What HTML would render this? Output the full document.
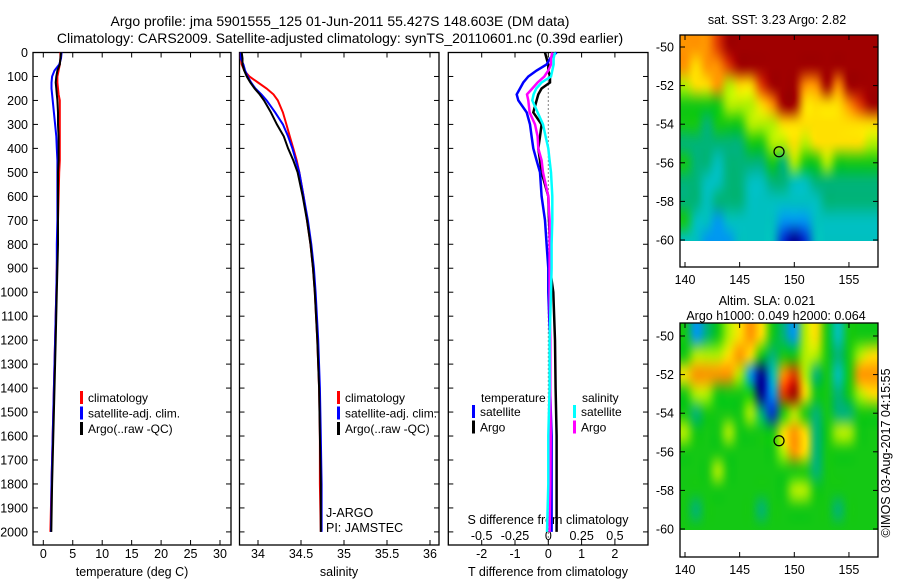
<!DOCTYPE html>
<html><head><meta charset="utf-8">
<style>
html,body{margin:0;padding:0;background:#fff;}
#wrap{position:relative;width:900px;height:580px;}
svg{display:block;position:absolute;left:0;top:0;font-family:"Liberation Sans",sans-serif;}
canvas{position:absolute;}
text{fill:#000;}
</style></head>
<body>
<div id="wrap">
<canvas id="cTop" width="198" height="206" style="left:680px;top:35px"></canvas>
<canvas id="cBot" width="198" height="207" style="left:680px;top:323px"></canvas>
<svg id="chart" width="900" height="580" viewBox="0 0 900 580" xmlns="http://www.w3.org/2000/svg">
<text x="340" y="26" font-size="14" text-anchor="middle">Argo profile: jma 5901555_125 01-Jun-2011 55.427S 148.603E (DM data)</text>
<text x="340" y="43" font-size="14" text-anchor="middle">Climatology: CARS2009. Satellite-adjusted climatology: synTS_20110601.nc (0.39d earlier)</text>
<g id="g"></g>
</svg>
</div>
<script>
// ---------- data ----------
const depths=[0,25,50,75,100,125,150,175,200,250,300,350,400,450,500,600,700,800,900,1000,1200,1400,1600,1800,2000];
const tempClim=[2.9,2.9,2.8,2.6,2.4,2.4,2.5,2.6,2.8,2.8,2.8,2.8,2.8,2.8,2.7,2.6,2.5,2.4,2.3,2.2,2.0,1.8,1.6,1.4,1.2];
const tempSat=[3.1,3.0,2.7,1.9,1.5,1.4,1.4,1.5,1.6,1.8,2.0,2.2,2.3,2.4,2.4,2.4,2.4,2.3,2.3,2.2,2.0,1.8,1.6,1.4,1.3];
const tempArgo=[3.0,2.9,2.8,2.4,2.2,2.1,2.2,2.3,2.4,2.5,2.5,2.6,2.6,2.6,2.5,2.5,2.5,2.5,2.4,2.3,2.1,1.9,1.7,1.5,1.35];
const salClim=[33.80,33.80,33.81,33.84,33.90,34.00,34.10,34.18,34.23,34.29,34.33,34.37,34.41,34.45,34.48,34.53,34.57,34.61,34.64,34.66,34.69,34.71,34.72,34.72,34.73];
const salSat=[33.80,33.80,33.83,33.85,33.88,33.92,33.97,34.04,34.10,34.20,34.29,34.35,34.40,34.44,34.48,34.53,34.58,34.62,34.65,34.67,34.70,34.72,34.73,34.74,34.74];
const salArgo=[33.81,33.82,33.82,33.84,33.87,33.91,33.96,34.02,34.07,34.15,34.22,34.30,34.35,34.41,34.46,34.52,34.57,34.61,34.64,34.66,34.69,34.71,34.72,34.73,34.73];
const tDiffSat=[0.25,0.05,-0.05,-0.35,-0.6,-0.75,-0.85,-0.95,-0.9,-0.65,-0.55,-0.5,-0.45,-0.35,-0.25,-0.2,-0.1,-0.05,0,0,0.05,0.05,0.1,0.1,0.1];
const tDiffArgo=[-0.1,-0.05,0,0,0.05,0.05,-0.2,-0.3,-0.35,-0.45,-0.2,-0.25,-0.3,-0.25,-0.2,0,0.02,0.05,0.05,0.15,0.2,0.22,0.25,0.25,0.25];
const sDiffArgo=[0.03,0.02,0.02,0,-0.03,-0.08,-0.12,-0.16,-0.15,-0.14,-0.1,-0.08,-0.075,-0.05,-0.04,0,0.01,0.01,0.01,0.01,0.015,0.015,0.018,0.015,0.01];
const sDiffSat=[0.05,0.04,0.04,0.03,0.02,-0.05,-0.09,-0.11,-0.12,-0.08,-0.04,-0.02,0.0,0.01,0.02,0.03,0.03,0.025,0.025,0.02,0.01,0.01,0,0,-0.01];
const depthTicks=[0,100,200,300,400,500,600,700,800,900,1000,1100,1200,1300,1400,1500,1600,1700,1800,1900,2000];
const tempTicks=[0,5,10,15,20,25,30];
const salTicks=[34,34.5,35,35.5,36];
const salTickLabels=["34","34.5","35","35.5","36"];
const tDiffTicks=[-2,-1,0,1,2];
const sDiffTicks=[-0.5,-0.25,0,0.25,0.5];
const sDiffTickLabels=["-0.5","-0.25","0","0.25","0.5"];
const mapLons=[140,141,142,143,144,145,146,147,148,149,150,151,152,153,154,155,156,157];
const mapLats=[-50,-51,-52,-53,-54,-55,-56,-57,-58,-59,-60];
const lonTicks=[140,145,150,155];
const latTicks=[-50,-52,-54,-56,-58,-60];
const sstGrid=[
[8,8,8,9,10,10,10,10,10,10,10,10,10,10,10,10,10,10],
[8,7,8,8,9,10,10,10,10,10,10,10,10,10,10,10,10,10],
[6,7,7,8,6,7,7,9,10,10,10,8,8,10,8,10,10,10],
[5,5,5,5,6,6,6,7,8,10,10,7,7,7,7,8,9,10],
[5,5,4,5,5,5,6,6,6,7,7,7,7,7,7,7,7,7],
[4,4,4,4,4,4,5,5,6,6,7,6,7,7,7,7,7,6],
[5,4,4,3,4,4,4,4,5,4,6,5,5,6,5,5,5,5],
[4,4,3,3,4,4,3,3,4,4,3,3,4,4,4,4,4,4],
[4,4,3,4,4,4,3,3,3,3,3,3,3,4,4,4,4,4],
[5,3,3,2,3,3,3,3,3,2,2,2,3,3,3,3,3,3],
[3,3,2,2,2,3,3,3,3,1,0,1,3,3,3,3,3,3]];
const slaGrid=[
[5,2,4,5,6,7,8,7,5,4,2,6,7,5,3,5,5,5],
[5,6,6,6,7,8,7,5,4,5,5,6,6,5,4,5,6,7],
[7,8,8,8,8,6,2,0,3,8,9,6,4,5,3,5,8,8],
[5,6,6,5,5,5,5,0,2,9,10,7,5,5,4,5,6,7],
[5,4,5,5,5,5,6,4,1,5,6,5,4,5,4,4,5,5],
[6,5,5,5,6,5,5,5,5,7,8,7,4,5,6,6,5,5],
[5,5,5,5,5,5,5,5,5,6,8,7,4,5,5,5,5,5],
[5,5,5,6,5,5,5,5,5,5,5,5,4,5,5,5,5,5],
[5,5,5,5,5,5,5,5,5,5,6,6,5,5,5,5,5,5],
[5,4,5,5,5,5,5,4,5,5,5,5,5,5,4,5,5,5],
[5,5,5,5,5,5,5,5,5,5,5,5,5,5,5,5,5,5]];
const floatLon=148.603, floatLat=-55.427;

// ---------- helpers ----------
const NS="http://www.w3.org/2000/svg";
const G=document.getElementById('g');
function mk(tag,attrs,parent){const e=document.createElementNS(NS,tag);for(const k in attrs)e.setAttribute(k,attrs[k]);(parent||G).appendChild(e);return e;}
function txt(s,x,y,size,anchor,parent){const t=mk('text',{x:x,y:y,'font-size':size,'text-anchor':anchor||'middle'},parent);t.textContent=s;return t;}
const yTop=52.5, yScale=0.2397, boxBottom=545;
const yD=d=>yTop+d*yScale;

function panel(name,x0,x1){
  const g=mk('g',{});
  
  
  const r=mk('rect',{x:x0,y:yTop,width:x1-x0,height:boxBottom-yTop,fill:'none',stroke:'#000','stroke-width':1.3},g);
  
  
  depthTicks.forEach(d=>{
    const y=yD(d);
    mk('line',{x1:x0,x2:x0+5,y1:y,y2:y,stroke:'#000'},g);
    mk('line',{x1:x1-5,x2:x1,y1:y,y2:y,stroke:'#000'},g);
  });
  return g;
}
function xTicks(g,xs,labels,y0,y1,labelY){
  xs.forEach((x,i)=>{
    mk('line',{x1:x,x2:x,y1:boxBottom,y2:boxBottom-5,stroke:'#000'},g);
    mk('line',{x1:x,x2:x,y1:yTop,y2:yTop+5,stroke:'#000'},g);
    const t=txt(labels[i],x,labelY,12.5,'middle',g);
    
    
  });
}
function profile(g,vals,xf,color,name,w){
  const pts=vals.map((v,i)=>xf(v).toFixed(1)+','+yD(depths[i]).toFixed(1)).join(' ');
  const p=mk('polyline',{points:pts,fill:'none',stroke:color,'stroke-width':w||2},g);
  
  
}
function legend(g,x,y,entries){
  entries.forEach((e,i)=>{
    const yy=y+i*15.5;
    mk('rect',{x:x,y:yy-11,width:3,height:13,fill:e[1]},g);
    const t=txt(e[0],x+8,yy,12,'start',g);
    
    
  });
}

depthTicks.forEach(d=>{
  const t=txt(String(d),28,yD(d)+4.5,12.5,'end');
  
  
});

// ---------- panel 1 temperature ----------
const xT=v=>43.3+v*5.89;
const p1=panel('temperature-panel',33,231);
xTicks(p1,tempTicks.map(xT),tempTicks.map(String),0,0,558);
let t=txt('temperature (deg C)',132,576,12.5,'middle',p1);


profile(p1,tempClim,xT,'#f00','temp-climatology-line');
profile(p1,tempSat,xT,'#00f','temp-satellite-line');
profile(p1,tempArgo,xT,'#000','temp-argo-line');
legend(p1,80,402,[['climatology','#f00'],['satellite-adj. clim.','#00f'],['Argo(..raw -QC)','#000']]);

// ---------- panel 2 salinity ----------
const xS=v=>258+(v-34)*86;
const p2=panel('salinity-panel',239.5,439);
xTicks(p2,salTicks.map(xS),salTickLabels,0,0,558);
t=txt('salinity',339,576,12.5,'middle',p2);


profile(p2,salClim,xS,'#f00','sal-climatology-line');
profile(p2,salSat,xS,'#00f','sal-satellite-line');
profile(p2,salArgo,xS,'#000','sal-argo-line');
legend(p2,337,402,[['climatology','#f00'],['satellite-adj. clim.','#00f'],['Argo(..raw -QC)','#000']]);
t=txt('J-ARGO',326,517,12.5,'start',p2);


t=txt('PI: JAMSTEC',326,532,12.5,'start',p2);



// ---------- panel 3 differences ----------
const xTD=v=>548.3+v*33.3;
const xSD=v=>548.3+v*133.3;
const p3=panel('difference-panel',448.3,648);
xTicks(p3,tDiffTicks.map(xTD),tDiffTicks.map(String),0,0,558);
sDiffTicks.forEach((v,i)=>{
  const tt=txt(sDiffTickLabels[i],xSD(v),540,12.5,'middle',p3);
  
  
});
t=txt('S difference from climatology',548,524,12.5,'middle',p3);


t=txt('T difference from climatology',548,576,12.5,'middle',p3);


mk('line',{x1:xTD(0),x2:xTD(0),y1:yTop,y2:boxBottom,stroke:'#000','stroke-dasharray':'1,3'},p3);
profile(p3,tDiffArgo,xTD,'#000','t-diff-argo-line',2.5);
profile(p3,tDiffSat,xTD,'#00f','t-diff-satellite-line',2.5);
profile(p3,sDiffArgo,xSD,'#f0f','s-diff-argo-line',2.5);
profile(p3,sDiffSat,xSD,'#0ff','s-diff-satellite-line',2.5);
t=txt('temperature',481,402,12,'start',p3);


legend(p3,472,416,[['satellite','#00f'],['Argo','#000']]);
t=txt('salinity',582,402,12,'start',p3);


legend(p3,573,416,[['satellite','#0ff'],['Argo','#f0f']]);

// ---------- maps ----------
const palette=[[0,0,144],[0,48,208],[0,152,240],[0,192,192],[0,180,120],[20,200,20],[180,240,0],[255,224,0],[255,148,0],[224,60,0],[160,0,0]];
function cmap(v){return palette[Math.max(0,Math.min(10,Math.round(v)))];}
const xL=lon=>685+(lon-140)*10.93;
function drawHeat(canvasId,grid,latAt,canvasLeft,canvasTop){
  const nr=grid.length, nc=grid[0].length;
  const small=document.createElement('canvas');
  small.width=nc+2; small.height=nr+2;
  const sc=small.getContext('2d');
  const img=sc.createImageData(nc+2,nr+2);
  for(let r=0;r<nr+2;r++)for(let c=0;c<nc+2;c++){
    const rr=Math.max(0,Math.min(nr-1,r-1)), cc=Math.max(0,Math.min(nc-1,c-1));
    const col=cmap(grid[rr][cc]); const k=(r*(nc+2)+c)*4;
    img.data[k]=col[0];img.data[k+1]=col[1];img.data[k+2]=col[2];img.data[k+3]=255;
  }
  sc.putImageData(img,0,0);
  const cv=document.getElementById(canvasId);
  const ctx=cv.getContext('2d');
  ctx.imageSmoothingEnabled=true;
  ctx.imageSmoothingQuality='high';
  const cw=10.93, ch=19.3;
  const x0=xL(mapLons[0])-cw*1.5-canvasLeft, y0=latAt-ch*1.5-canvasTop;
  ctx.drawImage(small,x0,y0,cw*(nc+2),ch*(nr+2));
}
function map(name,grid,top,latAt,boxBot){
  const g=mk('g',{});
  
  
  const yL=lat=>latAt+(-50-lat)*19.3;
  mk('rect',{x:680,y:top,width:198,height:boxBot-top,fill:'none',stroke:'#000','stroke-width':1.3},g);
  lonTicks.forEach(lon=>{const x=xL(lon);
    mk('line',{x1:x,x2:x,y1:boxBot,y2:boxBot-5,stroke:'#000'},g);
    mk('line',{x1:x,x2:x,y1:top,y2:top+5,stroke:'#000'},g);
    const tt=txt(String(lon),x,boxBot+17,12.5,'middle',g);
    
    });
  latTicks.forEach(lat=>{const y=yL(lat);
    mk('line',{x1:680,x2:685,y1:y,y2:y,stroke:'#000'},g);
    mk('line',{x1:873,x2:878,y1:y,y2:y,stroke:'#000'},g);
    const tt=txt(String(lat),674,y+4.5,12.5,'end',g);
    
    });
  const m=mk('circle',{cx:xL(floatLon),cy:yL(floatLat),r:5,fill:'none',stroke:'#000','stroke-width':1.2},g);
  
  
}
drawHeat('cTop',sstGrid,47,680,35);
drawHeat('cBot',slaGrid,336,680,323);
map('sst-map',sstGrid,35,47,267);
map('sla-map',slaGrid,323,336,557);
t=txt('sat. SST: 3.23 Argo: 2.82',777,24,12.5,'middle');


t=txt('Altim. SLA: 0.021',767,305,12.5,'middle');


t=txt('Argo h1000: 0.049 h2000: 0.064',776,320,12.5,'middle');


t=txt('©IMOS 03-Aug-2017 04:15:55',0,0,12.5,'middle');
t.setAttribute('transform','translate(890,453) rotate(-90)');


</script>
</body></html>
